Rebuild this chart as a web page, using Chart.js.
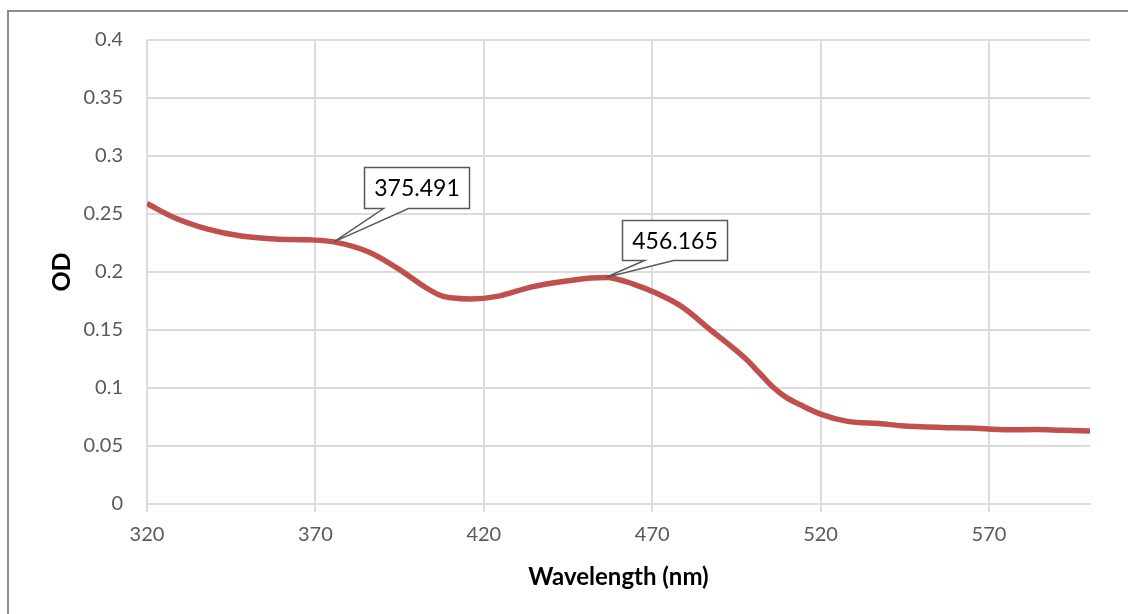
<!DOCTYPE html>
<html>
<head>
<meta charset="utf-8">
<script src="https://cdn.jsdelivr.net/npm/chart.js@4"></script>
<style>
  html, body { margin: 0; padding: 0; background: #fff; overflow: hidden; }
  #wrap { position: relative; width: 1128px; height: 614px; }
  #frame { position: absolute; left: 7px; top: 10px; width: 1200px; height: 700px; border: 2px solid #8c8c8c; box-sizing: border-box; }
  canvas { position: absolute; left: 0; top: 0; }
</style>
</head>
<body>
<div id="wrap">
  <div id="frame"></div>
  <canvas id="myChart" width="1128" height="614"></canvas>
</div>
<script>
// spectrum
const wavelengths = [320, 328, 338, 348, 358, 368, 375.491, 386, 395, 402, 407, 411, 416, 424, 434, 444, 452,
  456.165, 464, 478, 488, 493, 498, 502, 506, 510, 514, 520, 528, 538, 544, 556, 564, 576, 584, 592, 600];
const odValues = [0.259, 0.247, 0.237, 0.231, 0.2285, 0.2277, 0.226, 0.217, 0.202, 0.188, 0.18, 0.1775, 0.1768, 0.179, 0.187, 0.192, 0.1948,
  0.1953, 0.19, 0.1716, 0.1485, 0.137, 0.1245, 0.1125, 0.1005, 0.0915, 0.0855, 0.0775, 0.0712, 0.0692, 0.0675, 0.066, 0.0655, 0.064, 0.0642, 0.0635, 0.063];

const xTicks = [320, 370, 420, 470, 520, 570];
const calloutWavelengths = [375.491, 456.165];

const fontFamily = "Lato, 'Open Sans', sans-serif";

// callout boxes: offset from the point, pointer base on the box bottom
const calloutStyle = [
  { dx: 30, dy: -75, w: 105, h: 41, a: 19, b: 44 },
  { dx: 16, dy: -57, w: 105, h: 40, a: 22, b: 51 },
];

const calloutPlugin = {
  id: "callouts",
  afterDatasetsDraw(chart) {
    const ctx = chart.ctx;
    const xs = chart.scales.x, ys = chart.scales.y;
    calloutWavelengths.forEach((wl, i) => {
      const idx = wavelengths.indexOf(wl);
      const px = xs.getPixelForValue(wl);
      const py = ys.getPixelForValue(odValues[idx]);
      const st = calloutStyle[i];
      const left = Math.round(px + st.dx) + 0.5;
      const top = Math.round(py + st.dy) + 0.5;
      const right = left + st.w, bottom = top + st.h;
      ctx.save();
      ctx.beginPath();
      ctx.moveTo(left, top);
      ctx.lineTo(right, top);
      ctx.lineTo(right, bottom);
      ctx.lineTo(left + st.b, bottom);
      ctx.lineTo(px, py);
      ctx.lineTo(left + st.a, bottom);
      ctx.lineTo(left, bottom);
      ctx.closePath();
      ctx.fillStyle = "#ffffff";
      ctx.fill();
      ctx.strokeStyle = "#595959";
      ctx.lineWidth = 1.5;
      ctx.stroke();
      ctx.fillStyle = "#000000";
      ctx.font = "23px " + fontFamily;
      ctx.textAlign = "center";
      ctx.textBaseline = "middle";
      ctx.fillText(String(wl), (left + right) / 2, (top + bottom) / 2 + 1);
      ctx.restore();
    });
  },
};

var ctx = document.getElementById("myChart").getContext("2d");

var myChart = new Chart(ctx, {
  type: "line",
  data: {
    datasets: [
      {
        label: "OD",
        data: wavelengths.map((x, i) => ({ x: x, y: odValues[i] })),
        borderColor: "#c0504d",
        borderWidth: 5.5,
        pointRadius: 0,
        cubicInterpolationMode: "monotone",
        fill: false,
      },
    ],
  },
  options: {
    responsive: false,
    animation: false,
    devicePixelRatio: 1,
    layout: { padding: { left: 47, top: 40, right: 38, bottom: 22 } },
    plugins: {
      legend: { display: false },
      tooltip: { enabled: false },
    },
    scales: {
      x: {
        type: "linear",
        min: 320,
        max: 600,
        afterBuildTicks: (s) => {
          s.ticks = xTicks.map((v) => ({ value: v }));
        },
        afterFit: (s) => {
          s.height = 88;
        },
        grid: { color: "#dcdcdc", lineWidth: 2, drawTicks: true, tickLength: 8 },
        border: { color: "#dcdcdc", width: 2 },
        ticks: {
          color: "#595959",
          font: { family: fontFamily, size: 20 },
          padding: 11,
          maxRotation: 0,
          autoSkip: false,
        },
        title: {
          display: true,
          text: "Wavelength (nm)",
          color: "#000000",
          font: { family: fontFamily, size: 24, weight: "bold" },
          padding: { top: 0, bottom: 0 },
        },
      },
      y: {
        min: 0,
        max: 0.4,
        afterFit: (s) => {
          s.width = 100;
        },
        grid: { color: "#dcdcdc", lineWidth: 2, drawTicks: false },
        border: { display: false },
        ticks: {
          stepSize: 0.05,
          color: "#595959",
          font: { family: fontFamily, size: 20 },
          padding: 24,
          callback: (v) => String(+v.toFixed(2)),
        },
        title: {
          display: true,
          text: "OD",
          color: "#000000",
          font: { family: fontFamily, size: 25, weight: "bold" },
          padding: { top: 0, bottom: 0 },
        },
      },
    },
  },
  plugins: [calloutPlugin],
});
</script>
</body>
</html>
